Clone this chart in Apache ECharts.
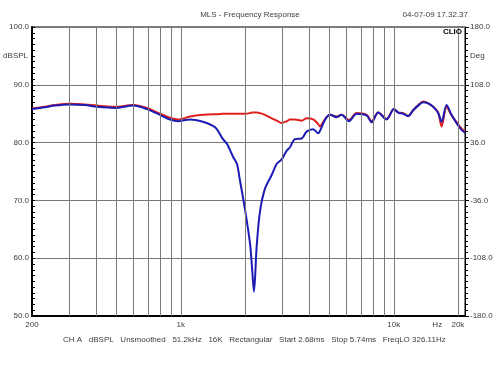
<!DOCTYPE html>
<html><head><meta charset="utf-8">
<script src="https://cdn.jsdelivr.net/npm/echarts@6/dist/echarts.min.js"></script>
<style>html,body{margin:0;padding:0;background:#fff}#c{width:500px;height:375px}</style>
</head><body><div id="c"></div>
<script>
// Frequencies (Hz)
var freqs = [200,230,256,301,355,404,491,596,693,798,889,970,1104,1270,1416,1478,1577,1646,1756,1835,1894,2000,2112,2158,2205,2270,2352,2482,2670,2818,2975,3140,3254,3434,3692,3898,4185,4417,4500,4665,4837,5015,5390,5689,6157,6690,7456,7870,8450,9254,10015,10490,11072,11688,12334,13020,13744,14510,15312,16168,16768,17700,18680,19848,20820,21600];
// Red trace (dBSPL)
var redDb = [85.9,86.2,86.5,86.7,86.6,86.4,86.2,86.5,86.0,85.0,84.3,84.0,84.5,84.8,84.9,84.9,85.0,85.0,85.0,85.0,85.0,85.0,85.1,85.2,85.2,85.2,85.1,84.8,84.2,83.8,83.4,83.7,84.0,84.0,83.8,84.2,84.0,83.2,82.8,83.6,84.4,84.8,84.5,84.8,83.9,85.1,84.8,83.7,85.2,84.1,85.8,85.2,85.1,84.6,85.6,86.5,87.1,86.8,86.2,85.2,82.8,86.2,84.7,83.4,82.4,82.0];
// Blue trace (dBSPL)
var blueDb = [85.8,86.1,86.4,86.6,86.5,86.2,86.0,86.4,85.8,84.8,84.0,83.7,84.0,83.6,82.9,82.3,80.6,79.8,77.6,76.3,73.5,68.5,62.6,58.5,54.2,62.0,68.0,72.0,74.4,76.3,77.1,78.6,79.2,80.6,80.7,81.9,82.3,81.6,82.0,83.3,84.4,84.8,84.4,84.8,83.7,85.0,84.7,83.5,85.2,84.0,85.8,85.2,85.0,84.6,85.6,86.4,87.0,86.8,86.2,85.1,83.6,86.5,84.8,83.2,82.2,81.7];
// Vertical grid frequencies
var gridFreqs = [300,400,500,600,700,800,900,1000,2000,3000,4000,5000,6000,7000,8000,9000,10000,20000];
var xTickLabels = {200:'200',1000:'1k',10000:'10k',16000:'Hz',20000:'20k'};
var title = 'MLS - Frequency Response';
var stamp = '04-07-09 17.32.37';
var footer = 'CH A   dBSPL   Unsmoothed   51.2kHz   16K   Rectangular   Start 2.68ms   Stop 5.74ms   FreqLO 326.11Hz';

var FONT = "'Liberation Sans', Arial, sans-serif";
var FS = 8;
var TXT = '#3c3c3c';
function pairs(ys){ return freqs.map(function(f,i){ return [f, ys[i]]; }); }

var vLines = gridFreqs.map(function(f){
  var it = {xAxis: f};
  if (xTickLabels[f]) it.label = {show:true, formatter: xTickLabels[f]};
  return it;
});
[200,16000].forEach(function(f){
  vLines.push({xAxis:f, lineStyle:{color:'rgba(0,0,0,0)'}, label:{show:true, formatter:xTickLabels[f]}});
});

var chart = echarts.init(document.getElementById('c'), null, {renderer:'canvas'});
chart.setOption({
  animation:false,
  backgroundColor:'#fff',
  textStyle:{fontFamily:FONT},
  title:[
    {text:title, left:'center', top:6, textStyle:{fontSize:FS, fontWeight:'normal', color:TXT, fontFamily:FONT}},
    {text:stamp, right:27, top:6, textStyle:{fontSize:FS, fontWeight:'normal', color:TXT, fontFamily:FONT}},
    {text:'CLIO', right:33, top:23, textStyle:{fontSize:8, fontWeight:'bold', color:'#000', fontFamily:FONT}},
    {text:footer, left:58, top:331, textStyle:{fontSize:FS, fontWeight:'normal', color:TXT, fontFamily:FONT}}
  ],
  grid:{left:32, right:35, top:27, bottom:59, show:true, borderColor:'#000', borderWidth:1, containLabel:false},
  xAxis:{type:'log', logBase:10, min:200, max:21600,
    axisLine:{show:true, onZero:false, lineStyle:{color:'#000', width:2}},
    axisTick:{show:false}, axisLabel:{show:false}, splitLine:{show:false}, minorTick:{show:false}},
  yAxis:[
    {type:'value', min:50, max:100, interval:10, position:'left',
      axisLine:{show:true, lineStyle:{color:'#000', width:2}},
      axisTick:{show:true, inside:true, length:3, lineStyle:{color:'#000'}},
      minorTick:{show:true, splitNumber:10, length:3, lineStyle:{color:'#000'}},
      axisLabel:{formatter:function(v){return v.toFixed(1);}, color:TXT, fontSize:FS, margin:3, fontFamily:FONT},
      splitLine:{show:true, lineStyle:{color:'#777', width:1}}},
    {type:'value', min:-180, max:180, interval:72, position:'right',
      axisLine:{show:true, lineStyle:{color:'#000', width:1}},
      axisTick:{show:true, inside:false, length:4, lineStyle:{color:'#000'}},
      minorTick:{show:true, splitNumber:10, length:3, lineStyle:{color:'#000'}},
      axisLabel:{formatter:function(v){return v.toFixed(1);}, color:TXT, fontSize:FS, margin:5, fontFamily:FONT},
      splitLine:{show:false}}
  ],
  series:[
    {type:'line', name:'red', data:pairs(redDb), showSymbol:false, smooth:0.3, z:3,
      lineStyle:{color:'#e0201c', width:2},
      markLine:{silent:true, symbol:'none', animation:false,
        lineStyle:{color:'#7a7a7a', width:1, type:'solid'},
        label:{show:false, position:'start', distance:5, color:TXT, fontSize:FS, fontFamily:FONT},
        data:vLines}},
    {type:'line', name:'blue', data:pairs(blueDb), showSymbol:false, smooth:0.3, z:4,
      lineStyle:{color:'#1c1cb4', width:2},
      markLine:{silent:true, symbol:'none', animation:false,
        lineStyle:{color:'rgba(0,0,0,0)'},
        label:{show:true, position:'start', distance:4, color:TXT, fontSize:FS, fontFamily:FONT},
        data:[{yAxis:95, label:{position:'start', formatter:'dBSPL'}},{yAxis:95, label:{position:'end', distance:5, formatter:'Deg'}}]}}
  ]
});
</script></body></html>
